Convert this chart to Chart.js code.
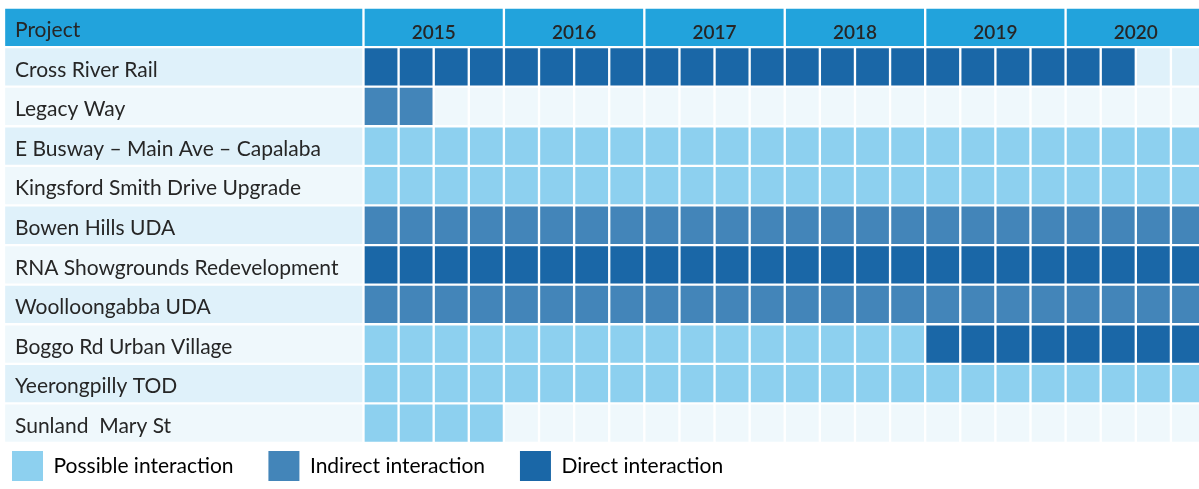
<!DOCTYPE html>
<html>
<head>
<meta charset="utf-8">
<script src="https://cdn.jsdelivr.net/npm/chart.js@4.4.1/dist/chart.umd.min.js"></script>
<style>
  html, body { margin: 0; padding: 0; background: #fff; overflow: hidden; }
  canvas { display: block; }
</style>
</head>
<body>
<canvas id="interactionChart" width="1199" height="491"></canvas>
<script>
const projects = [
    "Cross River Rail",
    "Legacy Way",
    "E Busway \u2013 Main Ave \u2013 Capalaba",
    "Kingsford Smith Drive Upgrade",
    "Bowen Hills UDA",
    "RNA Showgrounds Redevelopment",
    "Woolloongabba UDA",
    "Boggo Rd Urban Village",
    "Yeerongpilly TOD",
    "Sunland  Mary St"
];
const years = ["2015", "2016", "2017", "2018", "2019", "2020"];
// one letter per quarter: D direct, I indirect, P possible, - none
const interaction = [
    "DDDDDDDDDDDDDDDDDDDDDD--",
    "II----------------------",
    "PPPPPPPPPPPPPPPPPPPPPPPP",
    "PPPPPPPPPPPPPPPPPPPPPPPP",
    "IIIIIIIIIIIIIIIIIIIIIIII",
    "DDDDDDDDDDDDDDDDDDDDDDDD",
    "IIIIIIIIIIIIIIIIIIIIIIII",
    "PPPPPPPPPPPPPPPPDDDDDDDD",
    "PPPPPPPPPPPPPPPPPPPPPPPP",
    "PPPP--------------------"
];
const legendLabels = ["Possible interaction", "Indirect interaction", "Direct interaction"];
const legendCodes = ["P", "I", "D"];

const colors = { P: "#8dd0ef", I: "#4385b9", D: "#1a67a7" };
const headerBlue = "#22a3dc";
const rowBg = ["#dff1fa", "#eff8fc"];
const textColor = "#262626";
const xMin = -10.24;
const xMax = 23.8;

const rows = ["Project"].concat(projects);
const quarterCount = years.length * 4;

function buildDatasets() {
    const datasets = [];
    // label column
    datasets.push({
        data: rows.map(() => [xMin, 0]),
        backgroundColor: rows.map((r, i) => i === 0 ? headerBlue : rowBg[(i - 1) % 2])
    });
    // year header cells
    years.forEach((y, k) => {
        datasets.push({
            year: y,
            data: rows.map((r, i) => i === 0 ? [4 * k, 4 * k + 4] : null),
            backgroundColor: headerBlue
        });
    });
    // quarter cells
    for (let q = 0; q < quarterCount; q++) {
        datasets.push({
            data: rows.map((r, i) => i === 0 ? null : [q, q + 1]),
            backgroundColor: rows.map((r, i) => {
                if (i === 0) return headerBlue;
                return colors[interaction[i - 1][q]] || rowBg[(i - 1) % 2];
            })
        });
    }
    return datasets;
}

const yearLabels = {
    id: "yearLabels",
    afterDatasetsDraw(chart) {
        const ctx = chart.ctx;
        ctx.save();
        ctx.font = "600 19px Lato";
        ctx.fillStyle = textColor;
        ctx.textAlign = "center";
        ctx.textBaseline = "middle";
        chart.data.datasets.forEach((ds, i) => {
            if (!ds.year) return;
            const bar = chart.getDatasetMeta(i).data[0];
            ctx.fillText(ds.year, (bar.x + bar.base) / 2, bar.y + 6);
        });
        ctx.restore();
    }
};

document.addEventListener("DOMContentLoaded", () => {
    const ctx = document.getElementById("interactionChart").getContext("2d");
    new Chart(ctx, {
        type: "bar",
        data: {
            labels: rows,
            datasets: buildDatasets()
        },
        options: {
            responsive: false,
            animation: false,
            indexAxis: "y",
            layout: { padding: { left: 4, top: 7.5, right: 0, bottom: 0 } },
            datasets: {
                bar: {
                    grouped: false,
                    barPercentage: 1,
                    categoryPercentage: 1,
                    borderColor: "#ffffff",
                    borderWidth: 1.5,
                    borderSkipped: false
                }
            },
            scales: {
                x: { type: "linear", min: xMin, max: xMax, display: false },
                y: {
                    grid: { display: false },
                    border: { display: false },
                    ticks: {
                        mirror: true,
                        padding: 11,
                        labelOffset: 3,
                        z: 1,
                        color: textColor,
                        font: { family: "Lato", size: 21 }
                    },
                    afterFit: (scale) => {
                        scale.width = 0;
                        scale.paddingTop = 0;
                        scale.paddingBottom = 0;
                    }
                }
            },
            plugins: {
                tooltip: { enabled: false },
                legend: {
                    position: "bottom",
                    align: "start",
                    onClick: null,
                    labels: {
                        boxWidth: 31,
                        boxHeight: 30,
                        padding: 8,
                        color: textColor,
                        font: { family: "Lato", size: 21 },
                        generateLabels: () => legendLabels.map((t, i) => ({
                            text: t + "     ",
                            fillStyle: colors[legendCodes[i]],
                            strokeStyle: colors[legendCodes[i]],
                            lineWidth: 0,
                            hidden: false
                        }))
                    }
                }
            }
        },
        plugins: [yearLabels]
    });
});
</script>
</body>
</html>
